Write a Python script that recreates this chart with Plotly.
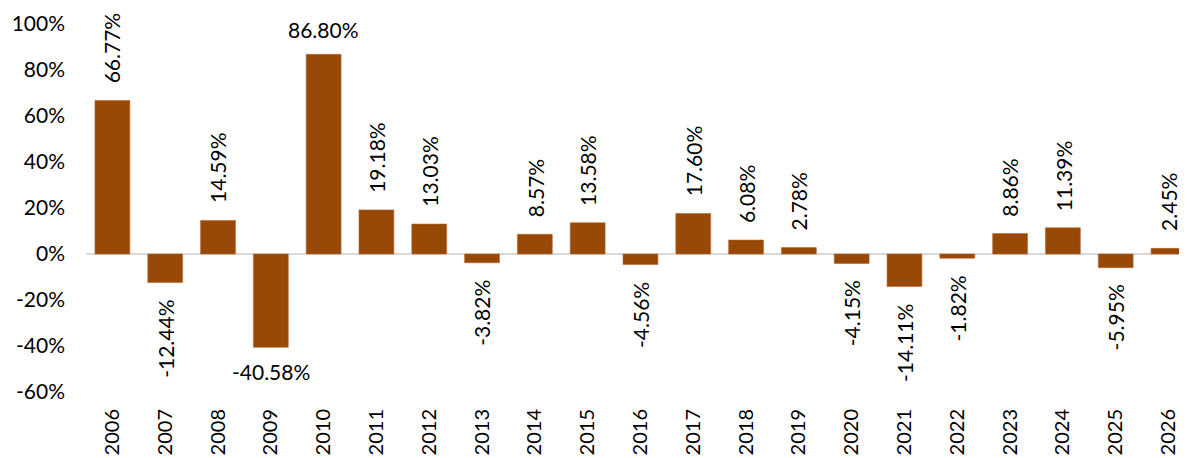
import plotly.graph_objects as go

years = [str(y) for y in range(2006, 2027)]
values = [66.77, -12.44, 14.59, -40.58, 86.80, 19.18, 13.03, -3.82, 8.57, 13.58,
          -4.56, 17.60, 6.08, 2.78, -4.15, -14.11, -1.82, 8.86, 11.39, -5.95, 2.45]
horizontal_labels = ["2009", "2010"]

y_ticks = [-60, -40, -20, 0, 20, 40, 60, 80, 100]
y_tick_text = [f"{t}%" for t in y_ticks]

FONT = "Lato, 'Open Sans', sans-serif"
BAR = "#984807"

fig = go.Figure()
fig.add_trace(go.Bar(
    x=list(range(len(years))), y=values,
    marker=dict(color=BAR, line=dict(color="#b5642a", width=0.6)),
    hoverinfo="skip",
))

for i, (yr, v) in enumerate(zip(years, values)):
    txt = f"{v:.2f}%"
    horiz = yr in horizontal_labels
    fig.add_annotation(
        x=i, y=v, xref="x", yref="y", text=txt, showarrow=False,
        textangle=0 if horiz else -90,
        yanchor="bottom" if v >= 0 else "top",
        yshift=(10 if horiz else 15) if v >= 0 else -(10 if horiz else 15),
        font=dict(family=FONT, size=21, color="#000000"),
    )

fig.update_layout(
    width=1179, height=450,
    margin=dict(l=78, r=0, t=16, b=66, autoexpand=False),
    paper_bgcolor="white", plot_bgcolor="white",
    showlegend=False,
    bargap=0.34,
    font=dict(family=FONT, size=21, color="#000000"),
    xaxis=dict(
        tickmode="array", tickvals=list(range(len(years))), ticktext=years,
        tickangle=-90, range=[-0.5, 20.35], showgrid=False, showline=False,
        ticks="", zeroline=False, ticklabelstandoff=12, automargin=False,
        tickfont=dict(family=FONT, size=20, color="#000000"),
    ),
    yaxis=dict(
        range=[-60, 100], tickmode="array", tickvals=y_ticks, ticktext=y_tick_text,
        showgrid=False, showline=False, ticks="", automargin=False,
        zeroline=True, zerolinecolor="#d9d9d9", zerolinewidth=2,
        ticklabelstandoff=20,
        tickfont=dict(family=FONT, size=21, color="#000000"),
    ),
)

fig.write_html("out.html")
